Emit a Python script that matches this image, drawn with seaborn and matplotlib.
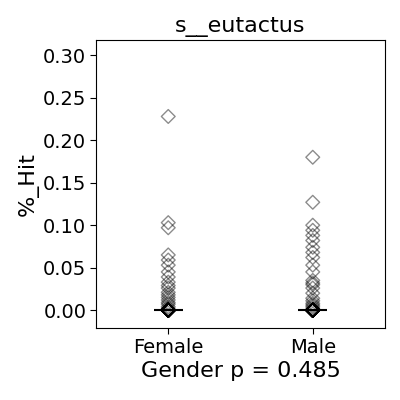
import matplotlib
matplotlib.use("Agg")
import matplotlib.pyplot as plt
import seaborn as sns
import pandas as pd
import numpy as np

categories = ["Female", "Male"]
female_vals = [0.228, 0.103, 0.097, 0.065, 0.059, 0.053, 0.045, 0.039, 0.033,
               0.029, 0.026, 0.021, 0.018, 0.015, 0.012, 0.009, 0.007, 0.004,
               0.002] + [0.0] * 40
male_vals = [0.180, 0.127, 0.100, 0.094, 0.088, 0.082, 0.074, 0.068, 0.062,
             0.053, 0.045, 0.035, 0.032, 0.030, 0.026, 0.020, 0.014, 0.011,
             0.008, 0.006, 0.004, 0.002] + [0.0] * 40
title = "s__eutactus"
xlabel = "Gender p = 0.485"
ylabel = "%_Hit"

df = pd.DataFrame({
    "Gender": ["Female"] * len(female_vals) + ["Male"] * len(male_vals),
    "Hit": female_vals + male_vals,
})

sns.set_style("white")
plt.rcParams['font.family'] = ['DejaVu Sans']
plt.rcParams['text.color'] = 'black'
plt.rcParams['axes.labelcolor'] = 'black'
plt.rcParams['xtick.color'] = 'black'
plt.rcParams['ytick.color'] = 'black'
fig = plt.figure(figsize=(4, 4), dpi=100)
ax = fig.add_axes([0.24, 0.18, 0.7225, 0.72])

sns.stripplot(data=df, x="Gender", y="Hit", order=categories, jitter=False,
              marker="D", size=7, color="black", ax=ax, zorder=2)
for c in ax.collections:
    c.set_facecolor("none")
    c.set_edgecolor((0, 0, 0, 0.45))
    c.set_linewidth(1.0)

meds = df.groupby("Gender")["Hit"].median().reindex(categories).values
for i, m in enumerate(meds):
    ax.hlines(m, i - 0.1, i + 0.1, color="black", linewidth=1.5, zorder=3)

ax.set_xlim(-0.5, 1.5)
ax.set_ylim(-0.021, 0.318)
ax.set_yticks([0.0, 0.05, 0.10, 0.15, 0.20, 0.25, 0.30])
ax.set_yticklabels(["0.00", "0.05", "0.10", "0.15", "0.20", "0.25", "0.30"])
ax.tick_params(axis="both", labelsize=14, length=4, width=0.8, left=True, bottom=True,
               color="black", labelcolor="black", pad=3)
ax.set_title(title, fontsize=16, color="black")
ax.set_xlabel(xlabel, fontsize=16, labelpad=3, color="black")
ax.set_ylabel(ylabel, fontsize=16, color="black", labelpad=3)
for s in ax.spines.values():
    s.set_color("black")
    s.set_linewidth(0.8)

fig.savefig("out.png", dpi=100)
